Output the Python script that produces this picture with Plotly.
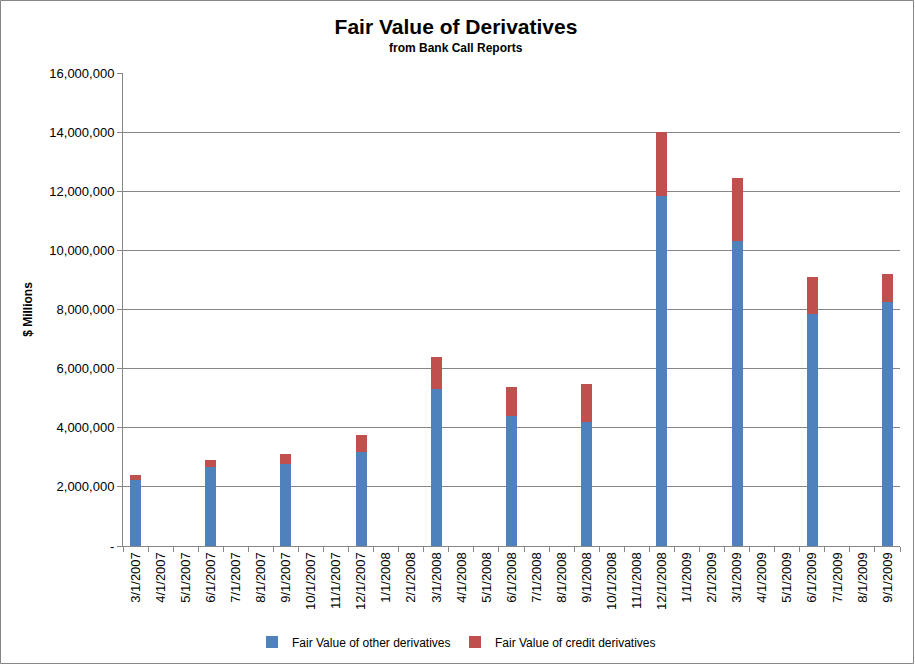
import plotly.graph_objects as go

months = ["3/1/2007","4/1/2007","5/1/2007","6/1/2007","7/1/2007","8/1/2007","9/1/2007",
          "10/1/2007","11/1/2007","12/1/2007","1/1/2008","2/1/2008","3/1/2008","4/1/2008",
          "5/1/2008","6/1/2008","7/1/2008","8/1/2008","9/1/2008","10/1/2008","11/1/2008",
          "12/1/2008","1/1/2009","2/1/2009","3/1/2009","4/1/2009","5/1/2009","6/1/2009",
          "7/1/2009","8/1/2009","9/1/2009"]

quarter_dates = ["3/1/2007","6/1/2007","9/1/2007","12/1/2007","3/1/2008","6/1/2008",
                 "9/1/2008","12/1/2008","3/1/2009","6/1/2009","9/1/2009"]
other_vals = [2230000, 2660000, 2760000, 3190000, 5310000, 4400000,
              4190000, 11840000, 10330000, 7850000, 8260000]
credit_vals = [170000, 250000, 350000, 560000, 1080000, 980000,
               1290000, 2160000, 2110000, 1250000, 940000]

W, H = 915, 665
L, R, T, B = 123, 15, 73, 119
pw, ph = W - L - R, H - T - B
font = "Liberation Sans"

fig = go.Figure()
fig.add_trace(go.Bar(x=quarter_dates, y=other_vals, name="Fair Value of other derivatives",
                     marker=dict(color="#4F81BD", line=dict(width=0))))
fig.add_trace(go.Bar(x=quarter_dates, y=credit_vals, name="Fair Value of credit derivatives",
                     marker=dict(color="#C0504D", line=dict(width=0))))

def px2x(p):
    return (p - L) / pw

def px2y(p):
    return (H - B - p) / ph

fig.update_layout(
    width=W, height=H,
    barmode="stack", bargap=0.56,
    paper_bgcolor="white", plot_bgcolor="white",
    margin=dict(l=L, r=R, t=T, b=B, autoexpand=False),
    font=dict(family=font, size=12, color="black"),
    showlegend=True,
    legend=dict(orientation="h", x=px2x(455), xanchor="center", y=px2y(642), yanchor="middle",
                font=dict(size=12), itemwidth=30, traceorder="normal", entrywidth=158),
    xaxis=dict(type="category", categoryorder="array", categoryarray=months,
               tickmode="array", tickvals=months, ticktext=months,
               tickangle=-90, tickson="boundaries", ticks="outside", ticklen=5,
               tickcolor="#868686", showline=True, linecolor="#868686", linewidth=1,
               showgrid=False, tickfont=dict(size=13)),
    yaxis=dict(range=[0, 16000000], tickmode="array",
               tickvals=[0,2000000,4000000,6000000,8000000,10000000,12000000,14000000,16000000],
               ticktext=["-","2,000,000","4,000,000","6,000,000","8,000,000","10,000,000",
                         "12,000,000","14,000,000","16,000,000"],
               ticks="outside", ticklen=5, tickcolor="#868686",
               showline=True, linecolor="#868686", linewidth=1,
               showgrid=True, gridcolor="#868686", gridwidth=1, zeroline=False,
               tickfont=dict(size=13),
               title=dict(text="<b>$ Millions</b>", font=dict(size=12), standoff=14)),
    title=dict(text="<b>Fair Value of Derivatives</b>", xref="container", x=456 / W,
               xanchor="center", yref="container", y=1 - 27 / H, yanchor="middle",
               font=dict(size=21)),
    annotations=[dict(text="<b>from Bank Call Reports</b>", xref="paper", yref="paper",
                      x=px2x(456), y=px2y(48), xanchor="center", yanchor="middle",
                      showarrow=False, font=dict(size=12))],
    shapes=[dict(type="rect", xref="paper", yref="paper",
                 x0=px2x(0.5), x1=px2x(W - 1.5), y0=px2y(H - 1.5), y1=px2y(0.5),
                 line=dict(color="#868686", width=1), fillcolor="rgba(0,0,0,0)")],
)

fig.write_html("out.html")
